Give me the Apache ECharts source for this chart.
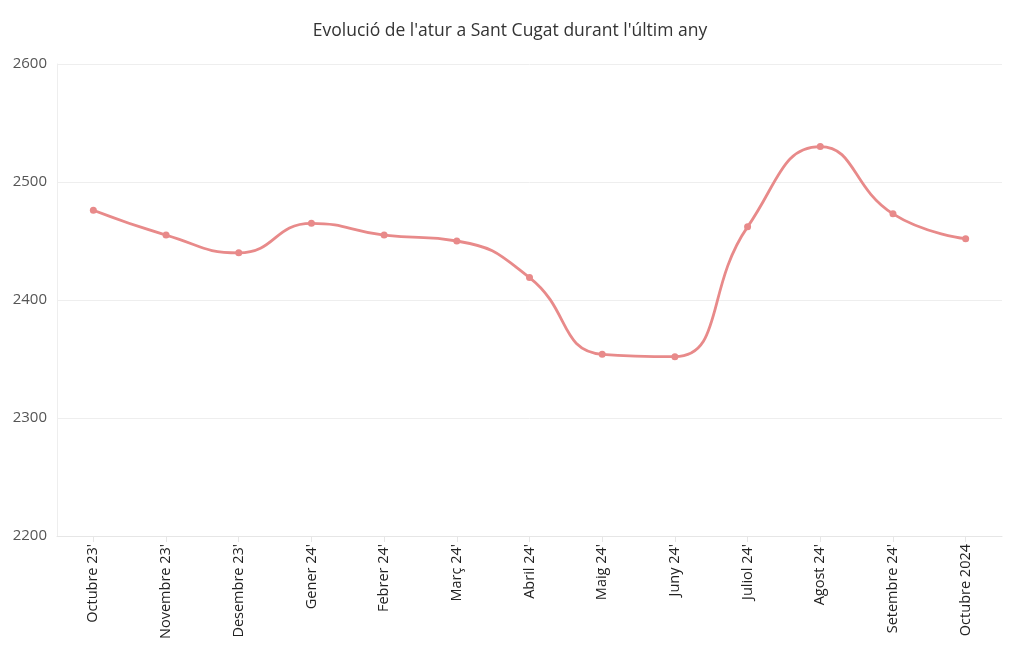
<!DOCTYPE html>
<html>
<head>
<meta charset="utf-8">
<script src="https://cdn.jsdelivr.net/npm/echarts@6/dist/echarts.min.js"></script>
<style>html,body{margin:0;padding:0;background:#fff}#c{width:1020px;height:650px}</style>
</head>
<body>
<div id="c"></div>
<script>
const categories = ["Octubre 23'","Novembre 23'","Desembre 23'","Gener 24'","Febrer 24'","Març 24'","Abril 24'","Maig 24'","Juny 24'","Juliol 24'","Agost 24'","Setembre 24'","Octubre 2024"];
const values = [2476, 2455, 2440, 2465, 2455, 2450, 2419, 2354, 2352, 2462, 2530, 2473, 2452];
const yTicks = [2200, 2300, 2400, 2500, 2600];

const chart = echarts.init(document.getElementById('c'));
chart.setOption({
  animation: false,
  title: {
    text: "Evolució de l'atur a Sant Cugat durant l'últim any",
    left: 'center', top: 17,
    textStyle: {fontFamily: 'Open Sans', fontSize: 17.5, fontWeight: 'normal', color: '#333'}
  },
  grid: {left: 57, right: 18, top: 64, bottom: 114},
  xAxis: {
    type: 'category', data: categories, boundaryGap: true,
    axisLine: {show: true, lineStyle: {color: '#e6e6e6'}},
    axisTick: {show: true, alignWithLabel: true, length: 6, lineStyle: {color: '#e6e6e6'}},
    axisLabel: {rotate: 90, fontFamily: 'Open Sans', fontSize: 14.5, color: '#222', margin: 8}
  },
  yAxis: {
    type: 'value', min: yTicks[0], max: yTicks[yTicks.length-1], interval: 100,
    axisLine: {show: true, lineStyle: {color: '#eeeeee'}},
    axisTick: {show: false},
    splitLine: {lineStyle: {color: '#eeeeee'}},
    axisLabel: {fontFamily: 'Open Sans', fontSize: 15, color: '#555', margin: 10, formatter: v => String(v)}
  },
  series: [{
    type: 'line', data: values, smooth: true,
    symbol: 'circle', symbolSize: 7,
    lineStyle: {color: '#e88a8a', width: 2.8},
    itemStyle: {color: '#e88a8a'}
  }]
});
</script>
</body>
</html>
